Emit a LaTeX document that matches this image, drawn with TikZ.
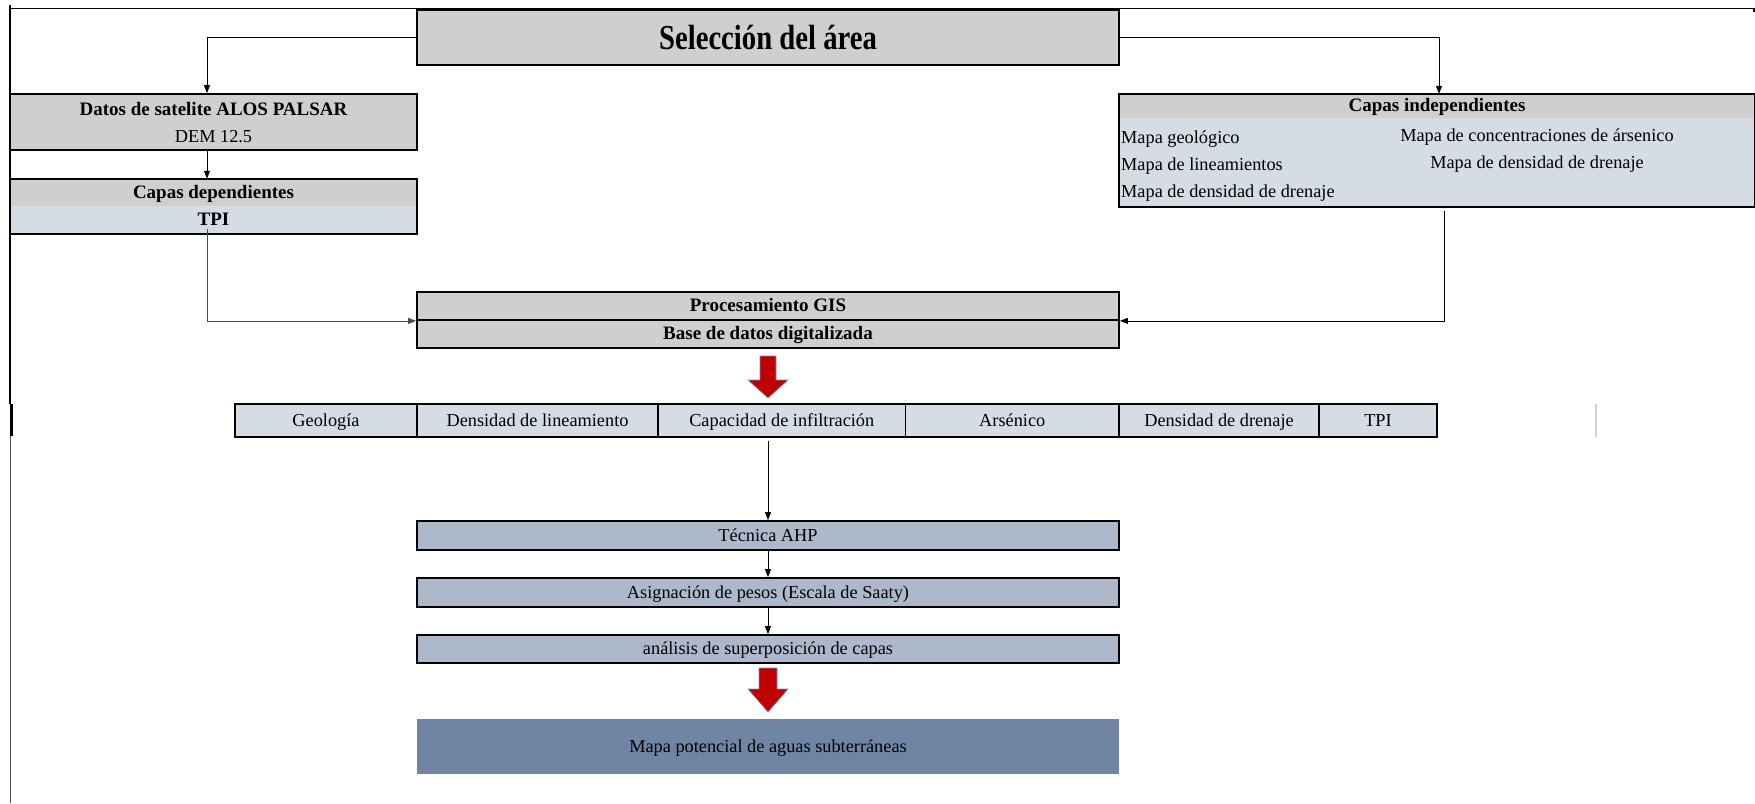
\documentclass[tikz,border=0pt]{standalone}
\usepackage{fontspec}
\setmainfont{Liberation Serif}
\newfontfamily\titlefont[FakeStretch=0.82]{Liberation Serif}
\usetikzlibrary{arrows.meta}
\definecolor{hdrgray}{HTML}{D0CECE}
\definecolor{paleblue}{HTML}{D6DCE4}
\definecolor{ahpblue}{HTML}{ADB9CA}
\definecolor{mapblue}{HTML}{7084A3}
\definecolor{arrowred}{HTML}{C00000}
\definecolor{arrowedge}{HTML}{6F8FC8}

\begin{document}
\begin{tikzpicture}
  [x=1pt,y=-1pt,
   every node/.style={inner sep=0pt,text height=14pt,text depth=3pt,
     font=\fontsize{18.3}{22}\selectfont},
   bx/.style={rectangle,draw,line width=1.8pt,fill=#1},
   pane/.style={rectangle,fill=#1},
   hd/.style={font=\fontsize{19}{22}\selectfont\bfseries},
   conn/.style={-{Triangle[length=8pt,width=6pt]},line width=0.8pt},
   bigarrow/.style={fill=arrowred,draw=arrowedge,line width=0.6pt}]
  \useasboundingbox (0,0) rectangle (1755,803);
  % frame
  \draw[line width=1.2pt] (10,8.5) -- (1754,8.5) -- (1754,12);
  \draw[line width=1.8pt] (10,5) -- (10,404);
  \draw[line width=2.5pt] (11.5,404) -- (11.5,436);
  \draw[line width=1pt,black!70] (10,436) -- (10,803);
  \draw[line width=1.5pt,black!18] (1596,404) -- (1596,437);

  \node[bx=hdrgray,minimum width=702,minimum height=55,text height=25pt,text depth=1pt,
    font={\titlefont\bfseries\fontsize{35}{40}\selectfont}] (sel) at (768,37.5) {Selección del área};

  \node[bx=hdrgray,minimum width=407,minimum height=56] (datos) at (213.5,122) {};
  \node[hd] (dtit) at (213.5,110) {Datos de satelite ALOS PALSAR};
  \node (ddem) at (213.5,137) {DEM 12.5};

  \node[pane=hdrgray,minimum width=407,minimum height=27,hd] (cdh) at (213.5,192.5) {Capas dependientes};
  \node[pane=paleblue,minimum width=407,minimum height=28,hd] (cdb) at (213.5,220) {TPI};
  \draw[line width=1.8pt] (cdh.north west) rectangle (cdb.south east);

  \node[pane=hdrgray,minimum width=636,minimum height=24,hd] (cih) at (1437,106) {Capas independientes};
  \node[pane=paleblue,minimum width=636,minimum height=89] (cib) at (1437,162.5) {};
  \draw[line width=1.8pt] (cih.north west) rectangle (cib.south east);
  \node[anchor=west] (mgeo) at (1121,138) {Mapa geológico};
  \node[anchor=west] (mlin) at (1121,165) {Mapa de lineamientos};
  \node[anchor=west] (mdre) at (1121,192) {Mapa de densidad de drenaje};
  \node (mars) at (1537,136) {Mapa de concentraciones de ársenico};
  \node (mdrb) at (1537,163) {Mapa de densidad de drenaje};

  \node[bx=hdrgray,minimum width=702,minimum height=28,hd] (pg) at (768,306) {Procesamiento GIS};
  \node[bx=hdrgray,minimum width=702,minimum height=28,hd] (pb) at (768,334) {Base de datos digitalizada};

  \filldraw[bigarrow] (760,356) -- (776,356) -- (776,380) -- (788,380) -- (768,398)
    -- (748,380) -- (760,380) -- cycle;

  \node[bx=paleblue,minimum width=182,minimum height=33] (geo) at (326,420.5) {Geología};
  \node[bx=paleblue,minimum width=241,minimum height=33] (lin) at (537.5,420.5) {Densidad de lineamiento};
  \node[bx=paleblue,minimum width=247.5,minimum height=33] (cap) at (781.75,420.5) {Capacidad de infiltración};
  \node[bx=paleblue,minimum width=213.5,minimum height=33] (ars) at (1012.25,420.5) {Arsénico};
  \node[bx=paleblue,minimum width=200,minimum height=33] (dre) at (1219,420.5) {Densidad de drenaje};
  \node[bx=paleblue,minimum width=118,minimum height=33] (tpi) at (1378,420.5) {TPI};

  \node[bx=ahpblue,minimum width=702,minimum height=29] (tec) at (768,535.5) {Técnica AHP};
  \node[bx=ahpblue,minimum width=702,minimum height=29] (asig) at (768,592.5) {Asignación de pesos (Escala de Saaty)};
  \node[bx=ahpblue,minimum width=702,minimum height=28] (anal) at (768,649) {análisis de superposición de capas};

  \filldraw[bigarrow] (759,668) -- (777,668) -- (777,689) -- (788,689) -- (768,712)
    -- (748,689) -- (759,689) -- cycle;

  \node[pane=mapblue,minimum width=702,minimum height=55] (mapa) at (768,746.5) {Mapa potencial de aguas subterráneas};

  \draw[conn] (sel.west) -| ([xshift=-6.5pt]datos.north);
  \draw[conn] (sel.east) -| ([xshift=2pt]cih.north);
  \draw[conn] ([xshift=-6.5pt]datos.south) -- ([xshift=-6.5pt]cdh.north);
  \draw[conn,black!70] ([xshift=-6.5pt,yshift=5pt]cdb.south) |- (pg.south west);
  \draw[conn] ([xshift=7pt,yshift=-4pt]cib.south) |- (pg.south east);
  \draw[conn] ([yshift=-3pt]cap.south -| tec.north) -- (tec.north);
  \foreach \from/\to in {tec/asig,asig/anal}
    \draw[conn] (\from) -- (\to);
\end{tikzpicture}
\end{document}
